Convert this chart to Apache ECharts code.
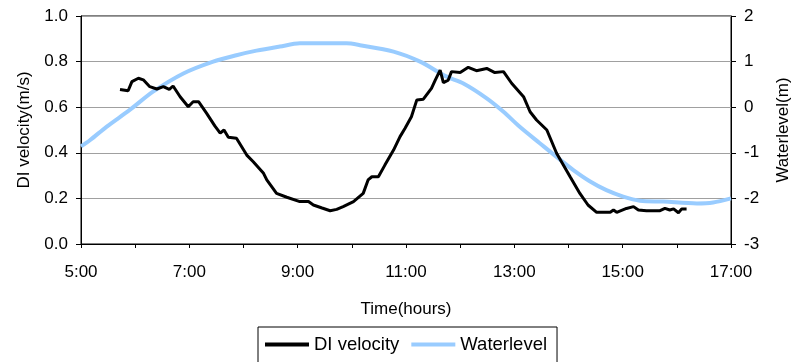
<!DOCTYPE html>
<html><head><meta charset="utf-8">
<script src="https://cdn.jsdelivr.net/npm/echarts@6/dist/echarts.min.js"></script>
<style>html,body{margin:0;padding:0;background:#fff}#c{width:792px;height:362px}</style>
</head><body><div id="c"></div>
<script>
// Time in decimal hours
const velTime = [5.72,5.87,5.94,6.06,6.15,6.27,6.40,6.52,6.63,6.70,6.83,6.98,7.07,7.17,7.32,7.47,7.57,7.64,7.72,7.87,8.06,8.18,8.37,8.43,8.61,8.80,9.04,9.20,9.29,9.45,9.60,9.72,9.84,10.03,10.21,10.30,10.37,10.49,10.61,10.77,10.89,10.98,11.10,11.20,11.32,11.47,11.54,11.63,11.69,11.78,11.84,12.00,12.15,12.30,12.49,12.64,12.80,12.95,13.17,13.29,13.41,13.60,13.78,14.03,14.21,14.36,14.52,14.77,14.83,14.89,15.07,15.20,15.29,15.44,15.69,15.78,15.87,15.94,16.03,16.09,16.18];
const velValue = [0.678,0.672,0.712,0.727,0.720,0.690,0.680,0.690,0.678,0.693,0.646,0.602,0.624,0.624,0.573,0.518,0.486,0.500,0.468,0.464,0.390,0.361,0.310,0.281,0.222,0.205,0.186,0.186,0.171,0.158,0.146,0.152,0.164,0.186,0.222,0.281,0.295,0.295,0.346,0.412,0.471,0.507,0.558,0.632,0.635,0.683,0.719,0.763,0.708,0.719,0.756,0.752,0.775,0.760,0.770,0.752,0.756,0.705,0.646,0.580,0.544,0.500,0.398,0.295,0.222,0.171,0.139,0.139,0.149,0.139,0.156,0.164,0.149,0.146,0.146,0.156,0.149,0.154,0.137,0.154,0.154];
const wlTime = [5.00,5.17,5.47,5.90,6.33,6.89,7.44,7.87,8.24,8.67,9.04,9.90,10.15,10.77,11.26,11.75,12.06,12.49,12.80,13.10,13.47,13.78,14.09,14.40,14.70,15.01,15.32,15.75,16.37,16.67,17.00];
const wlValue = [-0.86,-0.72,-0.43,-0.06,0.34,0.74,1.00,1.14,1.24,1.33,1.40,1.40,1.36,1.22,1.00,0.67,0.52,0.195,-0.10,-0.43,-0.79,-1.09,-1.38,-1.63,-1.82,-1.96,-2.05,-2.07,-2.11,-2.09,-2.00];

const seriesNames = ['DI velocity', 'Waterlevel'];
const xAxisTitle = 'Time(hours)';
const yLeftTitle = 'DI velocity(m/s)';
const yRightTitle = 'Waterlevel(m)';

const FONT = "'Liberation Sans', Arial, sans-serif";
const FS = 17;

const velData = velTime.map((t, i) => [t, velValue[i]]);
const wlData = wlTime.map((t, i) => [t, wlValue[i]]);

const chart = echarts.init(document.getElementById('c'));
chart.setOption({
  animation: false,
  backgroundColor: '#fff',
  textStyle: { fontFamily: FONT },
  grid: { left: 81, right: 61, top: 16, bottom: 118, show: true, borderColor: '#000', borderWidth: 1,
    backgroundColor: 'transparent', containLabel: false, outerBoundsMode: 'none' },
  legend: {
    data: seriesNames,
    left: 258, top: 327,
    padding: [8, 10, 40, 7],
    borderColor: '#000', borderWidth: 1,
    icon: 'rect', itemWidth: 44, itemHeight: 4, itemGap: 12,
    textStyle: { fontFamily: FONT, fontSize: 18.5, color: '#000' }
  },
  xAxis: {
    type: 'value', min: 5, max: 17, interval: 1,
    name: xAxisTitle, nameLocation: 'middle', nameGap: 57,
    nameTextStyle: { fontFamily: FONT, fontSize: FS, color: '#000' },
    axisLine: { show: true, lineStyle: { color: '#000', width: 1 } },
    axisTick: { show: true, length: 4, lineStyle: { color: '#000' } },
    axisLabel: { margin: 20, fontFamily: FONT, fontSize: FS, color: '#000',
      formatter: v => (Math.round(v) % 2 === 1 ? Math.round(v) + ':00' : '') },
    splitLine: { show: false }
  },
  yAxis: [{
    type: 'value', min: 0, max: 1, interval: 0.2,
    name: yLeftTitle, nameLocation: 'middle', nameGap: 48, nameRotate: 90,
    nameTextStyle: { fontFamily: FONT, fontSize: FS, color: '#000' },
    axisLine: { show: true, lineStyle: { color: '#000', width: 1 } },
    axisTick: { show: true, length: 5, lineStyle: { color: '#000' } },
    axisLabel: { margin: 13, fontFamily: FONT, fontSize: FS, color: '#000', formatter: v => v.toFixed(1) },
    splitLine: { show: true, lineStyle: { color: '#a0a0a0', width: 1 } }
  }, {
    type: 'value', min: -3, max: 2, interval: 1, position: 'right',
    name: yRightTitle, nameLocation: 'middle', nameGap: 44, nameRotate: 90,
    nameTextStyle: { fontFamily: FONT, fontSize: FS, color: '#000' },
    axisLine: { show: true, lineStyle: { color: '#000', width: 1 } },
    axisTick: { show: true, length: 5, lineStyle: { color: '#000' } },
    axisLabel: { margin: 13, fontFamily: FONT, fontSize: FS, color: '#000' },
    splitLine: { show: false }
  }],
  series: [{
    name: seriesNames[0], type: 'line', data: velData, yAxisIndex: 0,
    symbol: 'none', z: 3, color: '#000',
    lineStyle: { color: '#000', width: 3 }
  }, {
    name: seriesNames[1], type: 'line', data: wlData, yAxisIndex: 1,
    symbol: 'none', smooth: 0.3, z: 2, color: '#99ccff',
    lineStyle: { color: '#99ccff', width: 4 }
  }]
});
</script></body></html>
